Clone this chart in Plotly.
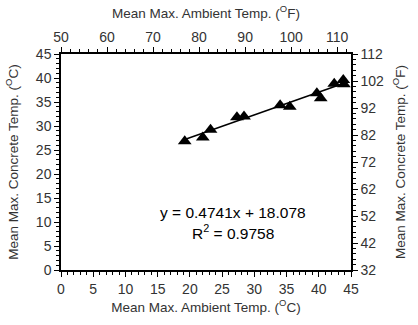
import plotly.graph_objects as go

ambient_c = [19.2, 22.0, 23.2, 27.3, 28.4, 34.0, 35.5, 39.7, 40.3, 42.4, 43.8, 43.9]
concrete_c = [26.8, 27.6, 29.2, 31.8, 32.0, 34.3, 34.0, 36.8, 35.8, 38.8, 39.6, 38.7]
slope = 0.4741
intercept = 18.078
eq_text = "y = 0.4741x + 18.078"
r2_text = "R<sup>2</sup> = 0.9758"

fx = [min(ambient_c), max(ambient_c)]
fy = [slope * v + intercept for v in fx]

font = dict(family="Liberation Sans, Arial", size=13.5, color="#333")
tfont = dict(family="Liberation Sans, Arial", size=14, color="#333")
fig = go.Figure()
fig.add_trace(go.Scatter(x=fx, y=fy, mode="lines", line=dict(color="black", width=1.5),
                         showlegend=False, hoverinfo="skip"))
fig.add_trace(go.Scatter(x=ambient_c, y=concrete_c, mode="markers",
                         marker=dict(symbol="triangle-up", size=12, color="black"),
                         showlegend=False))
# dummy traces for secondary axes
fig.add_trace(go.Scatter(x=[50], y=[None], xaxis="x2", yaxis="y", showlegend=False))
fig.add_trace(go.Scatter(x=[None], y=[32], xaxis="x", yaxis="y2", showlegend=False))

axcommon = dict(showgrid=False, zeroline=False, showline=True, linecolor="black", linewidth=1.5,
                ticks="outside", ticklen=5, tickcolor="black", tickfont=tfont,
                title_font=font)
fig.update_layout(
    width=418, height=325, margin=dict(l=60, r=61, t=53, b=53),
    plot_bgcolor="white", paper_bgcolor="white", font=font,
    xaxis=dict(range=[0, 45], dtick=5, mirror=False,
               minor=dict(dtick=1, ticks="outside", ticklen=3, tickcolor="black"),
               title=dict(text="Mean Max. Ambient Temp. (<sup>O</sup>C)", standoff=7), **axcommon),
    xaxis2=dict(range=[50, 113], dtick=10, tick0=50, overlaying="x", side="top", anchor="y",
                minor=dict(dtick=2, ticks="outside", ticklen=3, tickcolor="black"),
                title=dict(text="Mean Max. Ambient Temp. (<sup>O</sup>F)", standoff=7), **axcommon),
    yaxis=dict(range=[0, 45], dtick=5,
               minor=dict(dtick=1, ticks="outside", ticklen=3, tickcolor="black"),
               title=dict(text="Mean Max. Concrete Temp. (<sup>O</sup>C)", standoff=14), **axcommon),
    yaxis2=dict(range=[32, 112], dtick=10, tick0=32, overlaying="y", side="right", anchor="x",
                minor=dict(dtick=2, ticks="outside", ticklen=3, tickcolor="black"),
                title=dict(text="Mean Max. Concrete Temp. (<sup>O</sup>F)", standoff=12), **axcommon),
    annotations=[
        dict(x=26.7, y=12.0, xref="x", yref="y", text=eq_text, showarrow=False,
             font=dict(family="Liberation Sans, Arial", size=15.5, color="black")),
        dict(x=26.7, y=8.0, xref="x", yref="y", text=r2_text, showarrow=False,
             font=dict(family="Liberation Sans, Arial", size=15.5, color="black")),
    ],
)
fig.write_html("out.html")
